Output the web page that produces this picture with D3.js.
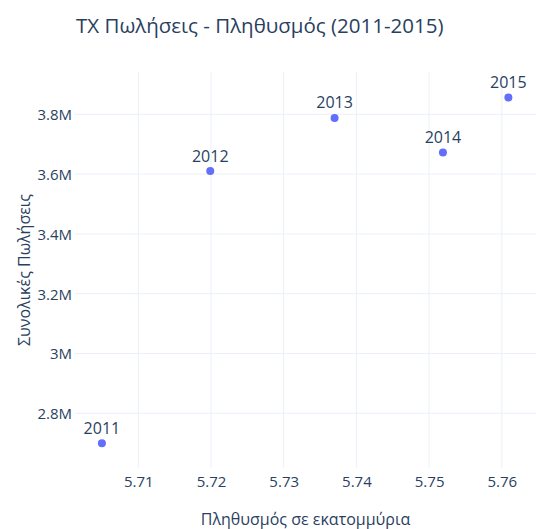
<!DOCTYPE html>
<html>
<head>
<meta charset="utf-8">
<script src="https://cdn.jsdelivr.net/npm/d3@7"></script>
<style>
  html, body { margin: 0; padding: 0; background: #fff; }
  svg { display: block; font-family: "Open Sans", verdana, arial, sans-serif; }
</style>
</head>
<body>
<svg id="chart" width="536" height="529"></svg>
<script>
// ---- data ----
const years = ["2011", "2012", "2013", "2014", "2015"];
const population = [5.705, 5.7199, 5.737, 5.7519, 5.7609]; // millions
const sales = [2700000, 3610000, 3788000, 3672000, 3856000];
const xTicks = [5.71, 5.72, 5.73, 5.74, 5.75, 5.76];
const yTicks = [2800000, 3000000, 3200000, 3400000, 3600000, 3800000];
const yTickLabels = ["2.8M", "3M", "3.2M", "3.4M", "3.6M", "3.8M"];
const titleText = "ΤΧ Πωλήσεις - Πληθυσμός (2011-2015)";
const xTitle = "Πληθυσμός σε εκατομμύρια";
const yTitle = "Συνολικές Πωλήσεις";

// ---- layout ----
const W = 536, H = 529;
const plot = { left: 75, right: 536, top: 72, bottom: 468 };
const textColor = "#2a3f5f", gridColor = "#ebf0f8", markerColor = "#636efa";

const svg = d3.select("#chart");

const x = d3.scaleLinear().domain([5.7013, 5.7647]).range([plot.left, plot.right]);
const y = d3.scaleLinear().domain([2617000, 3941500]).range([plot.bottom, plot.top]);

// grid
svg.append("g").selectAll("line").data(xTicks).join("line")
  .attr("x1", d => x(d)).attr("x2", d => x(d))
  .attr("y1", plot.top).attr("y2", plot.bottom)
  .attr("stroke", gridColor).attr("stroke-width", 1);
svg.append("g").selectAll("line").data(yTicks).join("line")
  .attr("x1", plot.left).attr("x2", plot.right)
  .attr("y1", d => y(d)).attr("y2", d => y(d))
  .attr("stroke", gridColor).attr("stroke-width", 1);

// axes (labels only, via d3 axes)
const xAxis = d3.axisBottom(x).tickValues(xTicks).tickSize(0).tickPadding(0)
  .tickFormat(d3.format(".2f"));
const gx = svg.append("g").attr("transform", `translate(0,${plot.bottom})`).call(xAxis);
gx.select(".domain").remove();
gx.selectAll("text").attr("fill", textColor).attr("font-size", 15)
  .attr("dy", null).attr("y", 18.5);

const yAxis = d3.axisLeft(y).tickValues(yTicks).tickSize(0).tickPadding(3)
  .tickFormat((d, i) => yTickLabels[i]);
const gy = svg.append("g").attr("transform", `translate(${plot.left},0)`).call(yAxis);
gy.select(".domain").remove();
gy.selectAll("text").attr("fill", textColor).attr("font-size", 15).attr("dy", "0.36em");
svg.selectAll("g").attr("font-family", null);

// points
const data = years.map((yr, i) => ({ yr, px: population[i], s: sales[i] }));
svg.append("g").selectAll("circle").data(data).join("circle")
  .attr("cx", d => x(d.px)).attr("cy", d => y(d.s)).attr("r", 4)
  .attr("fill", markerColor);
svg.append("g").selectAll("text").data(data).join("text")
  .attr("x", d => x(d.px)).attr("y", d => y(d.s) - 9.5)
  .attr("text-anchor", "middle").attr("font-size", 16).attr("fill", textColor)
  .text(d => d.yr);

// titles
svg.append("text").attr("x", 76).attr("y", 33).attr("font-size", 20.5)
  .attr("fill", textColor).text(titleText);
svg.append("text").attr("x", (plot.left + plot.right) / 2).attr("y", 525)
  .attr("text-anchor", "middle").attr("font-size", 16).attr("fill", textColor)
  .text(xTitle);
svg.append("text")
  .attr("transform", `translate(30,${(plot.top + plot.bottom) / 2}) rotate(-90)`)
  .attr("text-anchor", "middle").attr("font-size", 16).attr("fill", textColor)
  .text(yTitle);
</script>
</body>
</html>
